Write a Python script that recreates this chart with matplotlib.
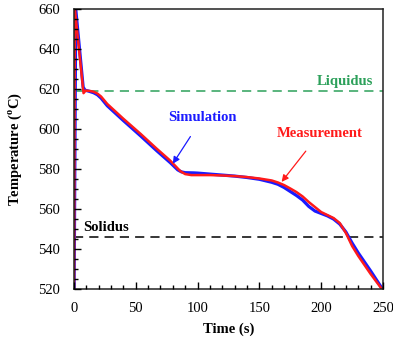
import matplotlib
matplotlib.use("Agg")
import matplotlib.pyplot as plt
from matplotlib.ticker import MultipleLocator

plt.rcParams['font.family'] = ['Liberation Serif', 'DejaVu Serif']
plt.rcParams['mathtext.fontset'] = 'custom'
plt.rcParams['mathtext.rm'] = 'Liberation Serif'
plt.rcParams['mathtext.bf'] = 'Liberation Serif:bold'

# Simulation (blue)
sim_t = [0, 1.5, 7.5, 9, 12, 16, 19, 22, 27, 40, 54, 67, 78, 81, 84, 87, 90,
         97, 100, 110, 120, 130, 140, 150, 160, 165, 170, 175, 180, 185, 190, 195,
         200, 205, 210, 215, 220, 225, 230, 240, 249.5]
sim_T = [500, 660, 621, 619.5, 619, 618.2, 617.2, 615.5, 611.7, 604.3, 596.6, 589.2,
         583.2, 581.4, 579.6, 578.6, 578.2, 578.1, 578, 577.5, 577, 576.5, 575.8,
         574.9, 573.4, 572.4, 570.8, 568.8, 566.8, 564.5, 561.3, 559, 557.8, 556.6,
         555, 552.5, 548.5, 543, 538, 529, 520]

# Measurement (red)
mea_t = [0, 0.8, 7.8, 9.5, 13, 16, 19, 22, 27, 40, 54, 67, 78, 82, 86, 90,
         95, 100, 110, 120, 130, 140, 150, 160, 165, 170, 175, 180, 185, 190, 195,
         200, 205, 210, 215, 220, 225, 230, 240, 249]
mea_T = [500, 660, 618, 619.3, 619.1, 618.7, 617.8, 616.3, 612.6, 605.2, 597.6,
         590.2, 584.2, 581.6, 579, 577.5, 577, 577, 577, 576.8, 576.5, 576, 575.3,
         574.3, 573.3, 572, 570.3, 568.5, 566.3, 563.5, 561, 558.5, 557, 555.5,
         553, 548, 541.5, 536.5, 527.5, 520]

liquidus = 619
solidus = 546

fig = plt.figure(figsize=(3.93, 3.42), dpi=100)
ax = fig.add_axes([0.188, 0.155, 0.7866, 0.818])
ax.set_axisbelow(False)

ax.axhline(liquidus, color='#2ca05a', lw=1.1, ls=(0, (6, 4)), zorder=1)
ax.axhline(solidus, color='black', lw=1.1, ls=(0, (6, 4)), zorder=1)

ax.plot(sim_t, sim_T, color='#1a1aff', lw=2.3, zorder=2)
ax.plot(mea_t, mea_T, color='#ff1a1a', lw=1.8, zorder=2.1)

ax.set_xlim(0, 250)
ax.set_ylim(520, 660)
ax.xaxis.set_major_locator(MultipleLocator(50))
ax.xaxis.set_minor_locator(MultipleLocator(10))
ax.yaxis.set_major_locator(MultipleLocator(20))
ax.yaxis.set_minor_locator(MultipleLocator(5))
ax.tick_params(which='both', direction='in', top=False, right=False, labelsize=10.5)
ax.tick_params(which='major', length=5, width=1)
ax.tick_params(which='minor', length=3, width=1)
ax.tick_params(axis='y', which='major', pad=10)
ax.tick_params(axis='x', which='major', pad=9.5)
for s in ax.spines.values():
    s.set_linewidth(1.1)
    s.set_color('#222222')

ax.set_xlabel('Time (s)', fontsize=10.5, fontweight='bold', labelpad=5)
ax.set_ylabel('Temperature ($^{\\mathbf{o}}$C)', fontsize=10.5, fontweight='bold', labelpad=10)

ax.text(219, 624, 'Liquidus', color='#2ca05a', fontsize=10.5, fontweight='bold',
        ha='center', va='center')
ax.text(7.5, 550.6, 'Solidus', color='black', fontsize=10.5, fontweight='bold',
        ha='left', va='center')
ax.annotate('Simulation', xy=(80, 582.7), xytext=(104, 605.6), color='#1a1aff',
            fontsize=10.5, fontweight='bold', ha='center', va='center',
            arrowprops=dict(arrowstyle='-|>', color='#1a1aff', lw=0.9,
                            shrinkA=8, shrinkB=0, mutation_scale=10))
ax.annotate('Measurement', xy=(168, 573.6), xytext=(199, 598), color='#ff1a1a',
            fontsize=10.5, fontweight='bold', ha='center', va='center',
            arrowprops=dict(arrowstyle='-|>', color='#ff1a1a', lw=0.9,
                            shrinkA=8, shrinkB=0, mutation_scale=10))

fig.savefig('out.png', dpi=100)
